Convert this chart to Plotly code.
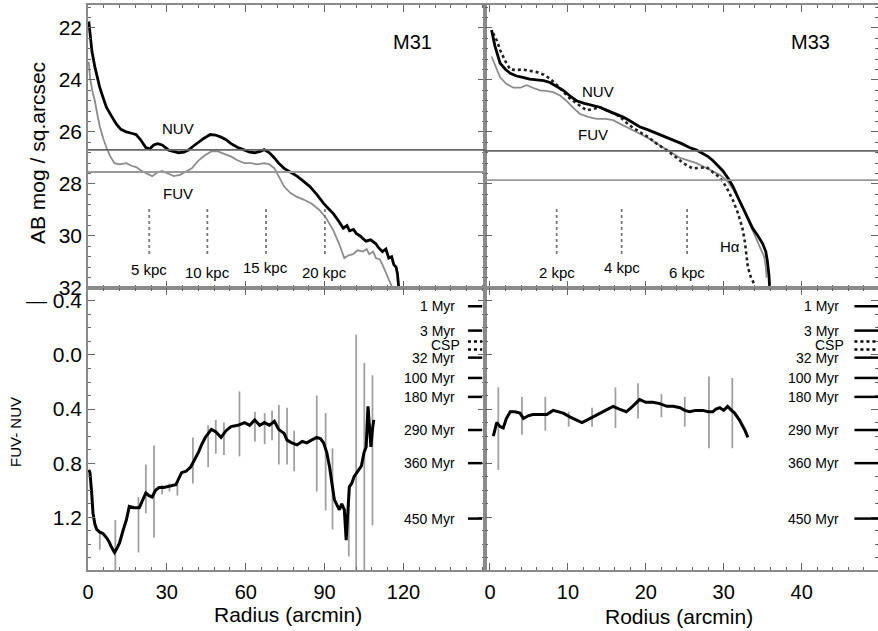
import plotly.graph_objects as go

# ---------------- DATA ----------------
# M31 surface brightness profiles (radius arcmin, AB mag / sq.arcsec)
m31_nuv_r = [0.3, 0.75, 1.5, 2.6, 3.5, 4.5, 5.8, 7, 9, 10.8, 12.5, 14.6, 16.5, 18.3, 20, 22, 23.5, 25, 26.5, 28.2,
             30.7, 32.5, 34.5, 36.5, 38.2, 40, 42, 44, 46.5, 48.5, 50.6, 52.5, 54.4, 57, 59.6, 61.5, 63.4, 65.5,
             67, 69, 70.9, 72.5, 74.6, 77, 79.5, 82, 84.4, 87, 89.6, 91.5, 93.4, 95.5, 97.1, 98.5, 99.5, 101,
             102, 103.5, 105.7, 107.5, 109.5, 110.5, 112, 113.3, 114.4, 115.5, 116.3, 117.2, 117.7, 118.2]
m31_nuv_m = [21.75, 22.2, 22.9, 23.5, 23.9, 24.3, 24.7, 25.05, 25.4, 25.7, 25.9, 26.0, 26.05, 26.1, 26.3, 26.6, 26.65,
             26.5, 26.45, 26.5, 26.7, 26.75, 26.8, 26.78, 26.7, 26.55, 26.4, 26.25, 26.1, 26.12, 26.2, 26.3, 26.45,
             26.6, 26.7, 26.78, 26.8, 26.75, 26.68, 26.8, 27.0, 27.2, 27.4, 27.55, 27.7, 27.9, 28.1, 28.4, 28.75,
             28.95, 29.15, 29.45, 29.7, 29.6, 29.8, 29.75, 29.9, 30.0, 30.2, 30.15, 30.3, 30.45, 30.6, 30.5, 30.85,
             30.8, 31.1, 31.2, 31.45, 32.0]
m31_fuv_r = [0.3, 0.75, 1.6, 2.6, 3.5, 4.5, 5.8, 7, 8.5, 10.1, 12, 14.6, 16.5, 18.3, 20.5, 22.5, 24.4, 26.5, 28.2,
             30.5, 32.6, 35, 37, 39.5, 42, 44.5, 46.9, 49.5, 52, 54.5, 57, 59.5, 62, 64.5, 67, 69, 70.9, 72.5,
             74.6, 77, 79.5, 82, 85, 88, 90.5, 93.4, 95.5, 97.5, 99, 100.8, 102.5, 104.6, 106, 107, 108.5, 109.5,
             111, 112, 113.3, 114.4, 115.8]
m31_fuv_m = [23.3, 23.9, 24.4, 24.8, 25.3, 25.8, 26.25, 26.6, 26.95, 27.2, 27.25, 27.2, 27.3, 27.35, 27.5, 27.6,
             27.7, 27.55, 27.5, 27.6, 27.7, 27.65, 27.55, 27.4, 27.1, 26.9, 26.75, 26.75, 26.85, 26.95, 27.1, 27.2,
             27.2, 27.25, 27.2, 27.25, 27.4, 27.7, 28.1, 28.35, 28.5, 28.6, 28.75, 29.0, 29.3, 29.8, 30.3, 30.85,
             30.75, 30.7, 30.55, 30.6, 30.5, 30.7, 30.6, 30.85, 30.9, 31.1, 31.4, 31.7, 32.0]

# M33 surface brightness profiles
m33_nuv_r = [0.2, 0.64, 1.3, 2.0, 2.6, 3.4, 4.2, 5.1, 6, 6.9, 7.7, 8.6, 9.4, 10.2, 11.1, 12.1, 13.2, 14.1, 15, 16,
             17.1, 18.1, 19.2, 20.3, 21.4, 22.5, 23.5, 24.6, 25.6, 26.5, 27.3, 28.0, 28.6, 29.3, 29.9, 30.6, 31.2,
             31.8, 32.4, 33.1, 33.7, 34.4, 35, 35.4, 35.6, 35.8, 35.9]
m33_nuv_m = [22.08, 22.7, 23.36, 23.6, 23.75, 23.85, 23.9, 23.97, 24.0, 24.03, 24.1, 24.25, 24.4, 24.6, 24.8,
             24.9, 24.97, 25.05, 25.17, 25.3, 25.43, 25.6, 25.8, 25.92, 26.05, 26.18, 26.3, 26.45, 26.6, 26.7,
             26.83, 26.95, 27.1, 27.3, 27.5, 27.8, 28.1, 28.5, 28.9, 29.3, 29.7, 30.0, 30.3, 30.6, 30.96, 31.5,
             32.0]
m33_fuv_r = [0.2, 0.7, 1.3, 2.1, 3, 3.9, 4.7, 5.5, 6.4, 7.2, 8.1, 9, 9.8, 10.6, 11.5, 12.6, 13.7, 14.8, 15.8, 16.9,
             18, 19.1, 20.1, 21.2, 22.2, 23.3, 24.4, 25.5, 26.5, 27.5, 28.6, 29.5, 30.4, 31.2, 32, 32.7, 33.3,
             34, 34.6, 35.2, 35.4, 35.5]
m33_fuv_m = [23.1, 23.5, 23.9, 24.15, 24.3, 24.3, 24.2, 24.3, 24.4, 24.42, 24.47, 24.6, 24.8, 25.05, 25.3, 25.42,
             25.5, 25.5, 25.55, 25.72, 25.9, 26.05, 26.2, 26.4, 26.6, 26.8, 27.0, 27.1, 27.2, 27.35, 27.5, 27.65,
             27.87, 28.2, 28.64, 29.05, 29.5, 29.95, 30.4, 30.8, 31.2, 31.6]
m33_ha_r = [0.4, 0.9, 1.3, 2.0, 2.6, 3.4, 4.2, 5.1, 6, 6.9, 7.7, 8.6, 9.4, 10.2, 11.1, 11.8, 12.4, 13.2, 14.1, 15.2,
            16.3, 17.0, 17.6, 18.4, 19.2, 20.3, 21.4, 22.2, 23.1, 24.0, 24.8, 25.4, 26, 26.9, 27.8, 28.6, 29.5,
            30.3, 31.2, 31.8, 32.4, 32.7, 32.9, 33.1, 33.5, 34.0]
m33_ha_m = [22.2, 22.5, 22.85, 23.3, 23.6, 23.62, 23.6, 23.65, 23.7, 23.8, 23.95, 24.2, 24.45, 24.7, 24.9, 25.05,
            25.17, 25.12, 25.05, 25.2, 25.35, 25.5, 25.67, 25.85, 26.0, 26.2, 26.45, 26.6, 26.8, 27.0, 27.2, 27.3,
            27.4, 27.38, 27.35, 27.55, 27.75, 28.1, 28.64, 29.1, 29.7, 30.2, 30.7, 31.2, 31.6, 31.9]

# sky / limiting levels (mag / sq.arcsec)
m31_levels = [26.69, 27.54]
m33_levels = [26.73, 27.85]

# kpc markers (arcmin)
m31_kpc_r = [23.3, 45.4, 67.7, 90.1]
m31_kpc_lab = ["5 kpc", "10 kpc", "15 kpc", "20 kpc"]
m31_kpc_laby = [31.3, 31.4, 31.2, 31.4]
m33_kpc_r = [8.56, 16.9, 25.3]
m33_kpc_lab = ["2 kpc", "4 kpc", "6 kpc"]
m33_kpc_laby = [31.4, 31.2, 31.4]
kpc_line_m = [28.96, 30.8]

# FUV-NUV colour profiles
m31_col_r = [0.3, 0.75, 1.4, 1.9, 2.6, 3.3, 4.5, 5.7, 7, 8, 8.9, 10.1, 11, 12, 13.3, 14.6, 15.7, 17.5, 19.5, 20.8,
             22, 23.2, 24.4, 25.7, 27, 28.8, 30.7, 33.4, 35.6, 37.3, 39, 40.5, 42, 43.3, 44.6, 46.9, 48.7, 50.6,
             52.5, 54.4, 57, 59.6, 61.5, 63.4, 65.3, 67.1, 69, 70.9, 72.5, 74.6, 75.7, 77.5, 79.5, 81.5, 83.2,
             85, 87, 88.5, 89.6, 90.8, 91.9, 92.8, 93.7, 95.6, 96.5, 97.5, 98.2, 99.4, 100.3, 101.2, 102.2, 103.1,
             104, 105, 105.8, 106.5, 107.1, 107.6, 108.2, 108.7]
m31_col_c = [0.85, 0.87, 1.02, 1.17, 1.25, 1.29, 1.31, 1.32, 1.35, 1.38, 1.42, 1.46, 1.43, 1.39, 1.3, 1.22, 1.12,
             1.13, 1.13, 1.07, 1.02, 1.04, 1.05, 1.0, 0.98, 0.98, 0.97, 0.96, 0.87, 0.86, 0.83, 0.78, 0.72, 0.66,
             0.61, 0.55, 0.57, 0.61, 0.56, 0.53, 0.52, 0.5, 0.52, 0.48, 0.52, 0.5, 0.52, 0.49, 0.55, 0.58, 0.63,
             0.65, 0.665, 0.64, 0.65, 0.63, 0.61, 0.62, 0.65, 0.72, 0.83, 0.95, 1.07, 1.145, 1.1, 1.145, 1.37,
             0.975, 0.95, 0.9, 0.87, 0.85, 0.82, 0.72, 0.68, 0.38, 0.6, 0.68, 0.55, 0.48]
m33_col_r = [0.43, 0.86, 1.3, 1.7, 2.1, 2.6, 3.2, 3.85, 4.3, 4.9, 5.5, 6.4, 7.3, 8.1, 8.7, 9.4, 10.3, 11.1, 11.8,
             12.5, 13.2, 13.9, 14.5, 15.2, 15.8, 16.6, 17.5, 18.3, 19.2, 20.0, 20.9, 21.8, 22.7, 23.5, 24.4, 25.0,
             25.6, 26.4, 27.3, 28.0, 28.6, 29.0, 29.5, 30.0, 30.5, 31.0, 31.4, 32.0, 32.4, 32.7, 33.1]
m33_col_c = [0.6, 0.5, 0.53, 0.54, 0.47, 0.42, 0.42, 0.43, 0.47, 0.45, 0.44, 0.44, 0.44, 0.41, 0.42, 0.43, 0.46,
             0.48, 0.5, 0.48, 0.46, 0.44, 0.42, 0.4, 0.38, 0.4, 0.42, 0.38, 0.33, 0.35, 0.35, 0.36, 0.38, 0.38,
             0.39, 0.41, 0.42, 0.41, 0.41, 0.42, 0.42, 0.4, 0.39, 0.41, 0.38, 0.41, 0.43, 0.48, 0.52, 0.555, 0.61]

# colour error bars: radius, lower colour, upper colour
m31_err_r = [4.5, 10.4, 19.2, 22.0, 25.1, 28.2, 31.0, 34.0, 39.9, 45.7, 48.6, 51.7, 57.6, 63.5, 67.2, 70.0, 72.6,
             75.7, 78.4, 87.0, 90.4, 93.0, 99.2, 102.0, 105.1, 108.2]
m31_err_lo = [1.30, 1.22, 1.05, 0.81, 0.67, 0.96, 0.95, 0.94, 0.61, 0.52, 0.48, 0.50, 0.27, 0.42, 0.43, 0.41, 0.37,
              0.39, 0.56, 0.30, 0.43, 0.69, 0.975, -0.15, 0.06, 0.15]
m31_err_hi = [1.44, 1.59, 1.46, 1.17, 1.35, 1.03, 1.01, 1.04, 0.95, 0.83, 0.73, 0.74, 0.75, 0.64, 0.66, 0.63, 0.81,
              0.81, 0.86, 1.01, 1.15, 1.29, 1.49, 1.60, 1.60, 1.26]
m33_err_r = [1.07, 4.1, 7.1, 10.1, 13.1, 16.1, 19.0, 22.0, 25.0, 28.1, 31.1]
m33_err_lo = [0.24, 0.31, 0.31, 0.42, 0.39, 0.24, 0.21, 0.29, 0.31, 0.16, 0.17]
m33_err_hi = [0.85, 0.59, 0.56, 0.53, 0.53, 0.54, 0.47, 0.46, 0.53, 0.69, 0.69]

# model colours for simple stellar populations
age_labels = ["1 Myr", "3 Myr", "32 Myr", "100 Myr", "180 Myr", "290 Myr", "360 Myr", "450 Myr"]
age_colours = [-0.36, -0.18, 0.02, 0.17, 0.31, 0.555, 0.80, 1.21]
csp_colours = [-0.10, -0.04]

y_top_ticks = [22, 24, 26, 28, 30, 32]
y_bot_ticks = [-0.4, 0.0, 0.4, 0.8, 1.2]
y_bot_ticktext = ["\u2014 0.4", "0.0", "0.4", "0.8", "1.2"]
x_m31_ticks = [0, 30, 60, 90, 120]
x_m33_ticks = [0, 10, 20, 30, 40]

# ---------------- FIGURE ----------------
FONT = "Liberation Sans, Arial, sans-serif"
FRAME = "#8a8a8a"
GRAY = "#8c8c8c"
ERRC = "#a0a0a0"

W, H = 878, 631
ML, MR, MT, MB = 88, 0, 5, 61
split = 397 / (W - ML - MR)
ysplit = (570 - 288) / (H - MT - MB)

fig = go.Figure()


def segs(xs, lo, hi):
    X, Y = [], []
    for x, a, b in zip(xs, lo, hi):
        X += [x, x, None]
        Y += [a, b, None]
    return X, Y


# top-left
fig.add_trace(go.Scatter(x=m31_fuv_r, y=m31_fuv_m, mode="lines", line=dict(color=GRAY, width=1.8),
                         xaxis="x", yaxis="y"))
fig.add_trace(go.Scatter(x=m31_nuv_r, y=m31_nuv_m, mode="lines", line=dict(color="black", width=2.8),
                         xaxis="x", yaxis="y"))
X, Y = segs(m31_kpc_r, [kpc_line_m[0]] * 4, [kpc_line_m[1]] * 4)
fig.add_trace(go.Scatter(x=X, y=Y, mode="lines", line=dict(color="#777", width=1.8, dash="dot"),
                         xaxis="x", yaxis="y"))
# top-right
fig.add_trace(go.Scatter(x=m33_fuv_r, y=m33_fuv_m, mode="lines", line=dict(color=GRAY, width=1.8),
                         xaxis="x2", yaxis="y2"))
fig.add_trace(go.Scatter(x=m33_ha_r, y=m33_ha_m, mode="lines", line=dict(color="#222", width=2.6, dash="dot"),
                         xaxis="x2", yaxis="y2"))
fig.add_trace(go.Scatter(x=m33_nuv_r, y=m33_nuv_m, mode="lines", line=dict(color="black", width=2.8),
                         xaxis="x2", yaxis="y2"))
X, Y = segs(m33_kpc_r, [kpc_line_m[0]] * 3, [kpc_line_m[1]] * 3)
fig.add_trace(go.Scatter(x=X, y=Y, mode="lines", line=dict(color="#777", width=1.8, dash="dot"),
                         xaxis="x2", yaxis="y2"))
# bottom-left
X, Y = segs(m31_err_r, m31_err_lo, m31_err_hi)
fig.add_trace(go.Scatter(x=X, y=Y, mode="lines", line=dict(color=ERRC, width=1.8), xaxis="x3", yaxis="y3"))
fig.add_trace(go.Scatter(x=m31_col_r, y=m31_col_c, mode="lines", line=dict(color="black", width=3),
                         xaxis="x3", yaxis="y3"))
# bottom-right
X, Y = segs(m33_err_r, m33_err_lo, m33_err_hi)
fig.add_trace(go.Scatter(x=X, y=Y, mode="lines", line=dict(color=ERRC, width=1.8), xaxis="x4", yaxis="y4"))
fig.add_trace(go.Scatter(x=m33_col_r, y=m33_col_c, mode="lines", line=dict(color="black", width=3),
                         xaxis="x4", yaxis="y4"))

shapes = []
# sky levels
for lv, col in zip(m31_levels, ["#666", "#999"]):
    shapes.append(dict(type="line", xref="x domain", yref="y", x0=0, x1=1, y0=lv, y1=lv,
                       line=dict(color=col, width=1.8)))
for lv, col in zip(m33_levels, ["#666", "#999"]):
    shapes.append(dict(type="line", xref="x2 domain", yref="y2", x0=0, x1=1, y0=lv, y1=lv,
                       line=dict(color=col, width=1.8)))
# model colour markers
for xr, yr, x0, x1 in [("x3 domain", "y3", 0.957, 0.993), ("x4 domain", "y4", 0.94, 1.0)]:
    for c in age_colours:
        shapes.append(dict(type="line", xref=xr, yref=yr, x0=x0, x1=x1, y0=c, y1=c,
                           line=dict(color="black", width=2.5)))
    for c in csp_colours:
        shapes.append(dict(type="line", xref=xr, yref=yr, x0=x0, x1=x1, y0=c, y1=c,
                           line=dict(color="black", width=2.5, dash="dot")))

ann = []
tf = dict(family=FONT, size=15, color="black")
af = dict(family=FONT, size=14, color="black")


def A(x, y, xr, yr, text, font, **kw):
    d = dict(x=x, y=y, xref=xr, yref=yr, text=text, showarrow=False, font=font,
             xanchor="center", yanchor="middle")
    d.update(kw)
    return d


for r, lab, yy in zip(m31_kpc_r, m31_kpc_lab, m31_kpc_laby):
    ann.append(A(r, yy, "x", "y", lab, tf))
for r, lab, yy in zip(m33_kpc_r, m33_kpc_lab, m33_kpc_laby):
    ann.append(A(r, yy, "x2", "y2", lab, tf))
mf = dict(family=FONT, size=20, color="black")
ann += [
    A(34.2, 25.85, "x", "y", "NUV", tf),
    A(34.2, 28.35, "x", "y", "FUV", tf),
    A(123.6, 22.54, "x", "y", "M31", mf),
    A(41.1, 22.54, "x2", "y2", "M33", mf),
    A(13.9, 24.46, "x2", "y2", "NUV", tf),
    A(13.2, 26.1, "x2", "y2", "FUV", tf),
    A(30.8, 30.4, "x2", "y2", "H\u03b1", tf),
]
for xr, yr, xa in [("x3 domain", "y3", 0.93), ("x4 domain", "y4", 0.905)]:
    for lab, c in zip(age_labels, age_colours):
        ann.append(A(xa, c, xr, yr, lab, af, xanchor="right"))
    ann.append(A(xa, sum(csp_colours) / 2, xr, yr, "CSP", af, xanchor="right", xshift=5))

pw, ph = W - ML - MR, H - MT - MB


def px(xp):
    return (xp - ML) / pw


def py(yp):
    return (H - MB - yp) / ph


big = dict(family=FONT, size=21, color="black")
ann += [
    A(px(37), py(153), "paper", "paper", "AB mog / sq.arcsec", big, textangle=-90),
    A(px(15), py(432), "paper", "paper", "FUV- NUV", dict(family=FONT, size=15, color="black"), textangle=-90),
    A(px(288), py(614), "paper", "paper", "Radius (arcmin)", big),
    A(px(679), py(616), "paper", "paper", "Rodius (arcmin)", big),
]


def ax(domain, anchor, rng, minor, tickvals, ticktext=None, labels=True, standoff=None, fsize=21):
    d = dict(domain=domain, anchor=anchor, range=rng, showgrid=False, zeroline=False, automargin=False,
             showline=True, linecolor=FRAME, linewidth=1.5, mirror="allticks",
             ticks="inside", ticklen=7, tickwidth=1.3, tickcolor="#666",
             minor=dict(ticks="inside", ticklen=3.5, tickwidth=1.3, tickcolor="#666", dtick=minor,
                        tick0=0, showgrid=False),
             showticklabels=labels, tickfont=dict(family=FONT, size=fsize, color="black"),
             tickmode="array", tickvals=tickvals)
    if ticktext is not None:
        d["ticktext"] = ticktext
    if standoff is not None:
        d["ticklabelstandoff"] = standoff
    return d


fig.update_layout(
    width=W, height=H,
    margin=dict(l=ML, r=MR, t=MT, b=MB, autoexpand=False),
    paper_bgcolor="white", plot_bgcolor="white",
    showlegend=False,
    xaxis=ax([0, split], "y", [0, 151], 6, x_m31_ticks, labels=False),
    yaxis=ax([ysplit, 1], "x", [32, 21.12], 0.4, y_top_ticks),
    xaxis2=ax([split, 1], "y2", [-0.64, 49.8], 2, x_m33_ticks, labels=False),
    yaxis2=ax([ysplit, 1], "x2", [32, 21.12], 0.4, y_top_ticks, labels=False),
    xaxis3=ax([0, split], "y3", [0, 151], 6, x_m31_ticks, standoff=3, fsize=20),
    yaxis3=ax([0, ysplit], "x3", [1.59, -0.495], 0.1, y_bot_ticks, y_bot_ticktext),
    xaxis4=ax([split, 1], "y4", [-0.64, 49.8], 2, x_m33_ticks, standoff=3, fsize=20),
    yaxis4=ax([0, ysplit], "x4", [1.59, -0.495], 0.1, y_bot_ticks, labels=False),
    shapes=shapes,
    annotations=ann,
)

fig.write_html("out.html", config={"displayModeBar": False},
               post_script="document.body.style.margin='0';")
